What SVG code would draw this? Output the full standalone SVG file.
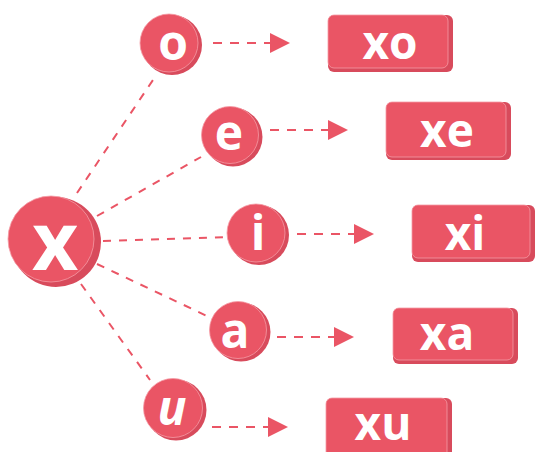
<svg xmlns="http://www.w3.org/2000/svg" width="535" height="452" viewBox="0 0 535 452">
<style>
.bk{fill:#D84B5C}
.fr{fill:#EA5565;stroke:#F59AA4;stroke-width:0.8}
.t{fill:#FFFFFF;font-family:"Open Sans","DejaVu Sans",sans-serif;font-weight:bold;text-anchor:middle}
.c{font-size:48px}
.b{font-size:46px}
.ln{stroke:#EA5565;stroke-width:2;fill:none;stroke-dasharray:8 8}
.ar{stroke:#EA5565;stroke-width:2;fill:none;stroke-dasharray:9 8}
</style>
<defs>
<marker id="ah" markerUnits="userSpaceOnUse" markerWidth="20" markerHeight="20" refX="0" refY="10" orient="auto" viewBox="0 0 20 20">
<path d="M0,0 L20,10 L0,20 Z" fill="#EA5565"/>
</marker>
</defs>
<g id="connectors">
<line class="ln" x1="77" y1="193" x2="153" y2="80"/>
<line class="ln" x1="97" y1="216" x2="201" y2="157"/>
<line class="ln" x1="103" y1="241" x2="227" y2="237"/>
<line class="ln" x1="97" y1="264" x2="207" y2="316"/>
<line class="ln" x1="81" y1="284" x2="150" y2="380"/>
<line class="ar" x1="213" y1="43" x2="270" y2="43" marker-end="url(#ah)"/>
<line class="ar" x1="270" y1="130" x2="328" y2="130" marker-end="url(#ah)"/>
<line class="ar" x1="297" y1="234" x2="354" y2="234" marker-end="url(#ah)"/>
<line class="ar" x1="277" y1="337" x2="334" y2="337" marker-end="url(#ah)"/>
<line class="ar" x1="212" y1="427" x2="268" y2="427" marker-end="url(#ah)"/>
</g>
<g id="node-x">
<circle class="bk" cx="56" cy="242" r="45"/>
<circle class="fr" cx="51" cy="239" r="43"/>
<text class="t" x="55" y="270" font-size="80">x</text>
</g>
<g id="node-o">
<circle class="bk" cx="172" cy="45" r="30"/>
<circle class="fr" cx="169" cy="43" r="29"/>
<text class="t c" x="173" y="60">o</text>
</g>
<g id="node-e">
<circle class="bk" cx="233" cy="137" r="29.5"/>
<circle class="fr" cx="230" cy="135" r="28.5"/>
<text class="t c" x="229" y="150">e</text>
</g>
<g id="node-i">
<circle class="bk" cx="259" cy="235" r="30"/>
<circle class="fr" cx="256" cy="233" r="29"/>
<text class="t c" x="258" y="250">i</text>
</g>
<g id="node-a">
<circle class="bk" cx="241" cy="332" r="29.5"/>
<circle class="fr" cx="238" cy="330" r="28.5"/>
<text class="t c" x="235" y="348">a</text>
</g>
<g id="node-u">
<circle class="bk" cx="176" cy="410" r="30.5"/>
<circle class="fr" cx="173" cy="408" r="29.5"/>
<text class="t c" x="172" y="425" font-style="italic">u</text>
</g>
<g id="node-xo">
<rect class="bk" x="328" y="15" width="125" height="57" rx="6"/>
<rect class="fr" x="328" y="15" width="120" height="53" rx="6"/>
<text class="t b" x="390" y="59">xo</text>
</g>
<g id="node-xe">
<rect class="bk" x="386" y="102" width="125" height="58" rx="6"/>
<rect class="fr" x="386" y="102" width="120" height="55" rx="6"/>
<text class="t b" x="447" y="147">xe</text>
</g>
<g id="node-xi">
<rect class="bk" x="412" y="205" width="123" height="57" rx="6"/>
<rect class="fr" x="412" y="205" width="118" height="53" rx="6"/>
<text class="t b" x="465" y="250">xi</text>
</g>
<g id="node-xa">
<rect class="bk" x="393" y="308" width="125" height="56" rx="6"/>
<rect class="fr" x="393" y="308" width="120" height="52" rx="6"/>
<text class="t b" x="447" y="350">xa</text>
</g>
<g id="node-xu">
<rect class="bk" x="326" y="398" width="126" height="64" rx="6"/>
<rect class="fr" x="326" y="398" width="121" height="60" rx="6"/>
<text class="t b" x="383" y="440">xu</text>
</g>
</svg>
